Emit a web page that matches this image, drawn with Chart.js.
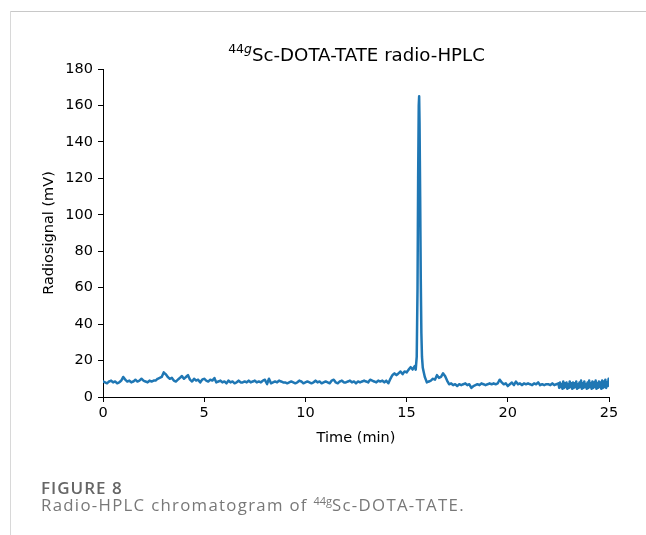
<!DOCTYPE html>
<html>
<head>
<meta charset="utf-8">
<script src="https://cdn.jsdelivr.net/npm/chart.js@4.4.1/dist/chart.umd.min.js"></script>
<style>
  html, body { margin: 0; padding: 0; background: #fff; }
  #wrap { position: relative; width: 646px; height: 535px; overflow: hidden; }
  #chartBox { position: absolute; left: 0; top: 0; width: 646px; height: 535px; }
  .topline { position: absolute; left: 10px; top: 11px; width: 636px; height: 1px; background: #c8c8c8; }
  .leftline { position: absolute; left: 10px; top: 11px; width: 1px; height: 524px; background: #d8d8d8; }
  #title { position: absolute; left: 0; width: 713px; top: 45px; text-align: center;
           font-family: "DejaVu Sans"; font-size: 18.2px; line-height: 20px; color: #000; white-space: nowrap; }
  #title sup { font-size: 12.5px; line-height: 0; vertical-align: baseline; position: relative; top: -8.4px; }
  #figlabel { position: absolute; left: 41px; top: 478px; font-family: "Open Sans"; font-weight: 600;
              font-size: 17px; line-height: 20px; color: #666; white-space: nowrap; letter-spacing: 1.0px; }
  #caption { position: absolute; left: 41px; top: 495px; font-family: "Open Sans"; font-weight: 400;
             font-size: 16.8px; line-height: 20px; color: #787878; white-space: nowrap; letter-spacing: 1.3px; }
  #caption sup { font-size: 11px; line-height: 0; vertical-align: baseline; position: relative; top: -6px; letter-spacing: 0; }
</style>
</head>
<body>
<div id="wrap">
  <div class="topline"></div>
  <div class="leftline"></div>
  <div id="chartBox"><canvas id="c"></canvas></div>
  <div id="title"><sup>44<i>g</i></sup>Sc-DOTA-TATE radio-HPLC</div>
  <div id="figlabel">FIGURE 8</div>
  <div id="caption">Radio-HPLC chromatogram of <sup>44g</sup>Sc-DOTA-TATE.</div>
</div>
<script>
const sampleStep = 0.1;
const baselineSignal = [
  8.5, 8.0, 7.5, 8.5, 9.0, 8.0, 8.5, 7.5, 8.0, 9.0,
  11.0, 9.5, 8.5, 9.0, 8.0, 8.5, 9.5, 8.5, 9.0, 10.0,
  9.0, 8.5, 8.0, 9.0, 8.5, 9.0, 9.0, 10.0, 10.5, 11.0,
  13.5, 12.5, 11.0, 10.0, 10.5, 9.0, 8.5, 9.5, 10.5, 11.5,
  10.0, 11.0, 12.0, 9.5, 8.5, 10.0, 9.0, 9.5, 8.0, 9.5,
  10.0, 9.0, 8.5, 9.5, 9.0, 10.5, 8.0, 8.5, 9.0, 8.0,
  8.5, 7.5, 9.0, 8.0, 8.5, 7.5, 8.0, 9.0, 8.0, 8.0,
  8.5, 8.0, 9.0, 8.0, 8.5, 9.0, 8.0, 8.5, 8.0, 9.0,
  9.5, 7.0, 10.0, 7.5, 8.0, 8.5, 8.0, 9.0, 8.5, 8.0,
  8.0, 7.5, 8.0, 8.5, 8.0, 7.5, 8.0, 9.0, 8.5, 7.5,
  8.0, 8.5, 8.0, 7.5, 8.0, 9.0, 8.0, 8.5, 7.5, 8.0,
  8.5, 8.0, 7.5, 9.0, 9.5, 8.0, 7.5, 8.5, 9.0, 8.0,
  8.0, 8.5, 9.0, 8.0, 8.5, 7.5, 8.5, 8.0, 8.5, 9.0,
  8.5, 8.0, 9.5, 9.0, 8.5, 8.0, 9.0, 8.5, 9.0, 8.0,
  9.0, 7.5, 10.0, 12.0, 13.0, 12.0, 13.0, 14.0, 12.5, 14.0,
  13.5, 15.0, 16.5, 15.0, 17.0
];
// Main peak region, sampled densely
const peakTime = [15.45, 15.50, 15.54, 15.57, 15.60, 15.62, 15.64, 15.67, 15.70, 15.73, 15.76, 15.80, 15.85, 15.90];
const peakSignal = [15.0, 22.0, 60.0, 120.0, 160.0, 165.0, 150.0, 110.0, 65.0, 35.0, 22.0, 16.0, 13.5, 11.0];
// Trace from 16.0 min to 22.4 min, every 0.1 min
const tailStart = 16.0;
const tailSignal = [
  8.0, 8.5, 9.0, 10.0, 9.5, 12.0, 10.5, 11.0, 13.0, 11.5,
  9.0, 7.0, 7.5, 6.5, 7.0, 6.0, 7.0, 6.5, 7.0, 7.5,
  6.5, 7.0, 5.0, 6.0, 6.5, 7.0, 6.5, 7.5, 7.0, 6.5,
  7.0, 7.5, 7.0, 7.5, 7.0, 7.5, 9.5, 8.0, 7.0, 7.5,
  6.0, 7.0, 8.0, 6.5, 8.5, 7.0, 7.5, 6.5, 7.5, 7.0,
  7.5, 7.0, 6.5, 7.5, 7.0, 8.0, 6.5, 7.0, 6.5, 7.0,
  7.0, 6.5, 7.5, 6.5, 7.0
];
// Noisy end section from 22.5 min to 24.98 min, every 0.04 min
const bandStart = 22.5;
const bandStep = 0.04;
const bandSignal = [
  7.5, 5.0, 8.0, 5.5, 7.0, 4.5, 8.5, 5.0, 7.5, 5.5,
  8.0, 4.5, 7.0, 5.0, 8.5, 5.5, 7.5, 4.5, 8.0, 5.0,
  7.5, 5.5, 8.5, 4.5, 7.0, 5.0, 8.0, 5.5, 9.0, 4.5,
  7.5, 5.0, 8.5, 5.5, 7.0, 4.5, 8.0, 5.0, 9.0, 5.5,
  7.5, 4.5, 8.5, 5.0, 8.0, 5.5, 9.0, 4.5, 7.5, 5.0,
  8.5, 5.5, 8.0, 4.5, 9.0, 5.0, 8.5, 5.5, 9.5, 5.0,
  8.0, 6.0, 10.0
];
const xTicks = [0, 5, 10, 15, 20, 25];
const yTicks = [0, 20, 40, 60, 80, 100, 120, 140, 160, 180];

const points = [];
baselineSignal.forEach((v, i) => points.push({ x: +(i * sampleStep).toFixed(2), y: v }));
peakTime.forEach((t, i) => points.push({ x: t, y: peakSignal[i] }));
tailSignal.forEach((v, i) => points.push({ x: +(tailStart + i * sampleStep).toFixed(2), y: v }));
bandSignal.forEach((v, i) => points.push({ x: +(bandStart + i * bandStep).toFixed(2), y: v }));

const tickFont = { family: 'DejaVu Sans', size: 14.5 };

new Chart(document.getElementById('c'), {
  type: 'line',
  data: {
    datasets: [{
      data: points,
      borderColor: '#1f77b4',
      borderWidth: 2.5,
      borderJoinStyle: 'round',
      borderCapStyle: 'round',
      pointRadius: 0,
      tension: 0.001,
      fill: false
    }]
  },
  options: {
    responsive: true,
    maintainAspectRatio: false,
    animation: false,
    events: [],
    layout: { padding: { left: 37, right: 37, top: 69, bottom: 84 } },
    plugins: { legend: { display: false }, tooltip: { enabled: false }, title: { display: false } },
    scales: {
      x: {
        type: 'linear',
        min: 0, max: 25,
        afterBuildTicks: (s) => { s.ticks = xTicks.map(v => ({ value: v })); },
        afterFit: (s) => { s.height = 54; },
        ticks: { font: tickFont, color: '#000', padding: 3, maxRotation: 0 },
        grid: { drawOnChartArea: false, drawTicks: true, tickLength: 5, color: '#000', tickWidth: 1 },
        border: { display: true, color: '#000', width: 1 },
        title: { display: true, text: 'Time (min)', font: tickFont, color: '#000', padding: { top: 4, bottom: 4 } }
      },
      y: {
        type: 'linear',
        min: 0, max: 180,
        afterBuildTicks: (s) => { s.ticks = yTicks.map(v => ({ value: v })); },
        afterFit: (s) => { s.width = 66; },
        ticks: { font: tickFont, color: '#000', padding: 5 },
        grid: { drawOnChartArea: false, drawTicks: true, tickLength: 5, color: '#000', tickWidth: 1 },
        border: { display: true, color: '#000', width: 1 },
        title: { display: true, text: 'Radiosignal (mV)', font: tickFont, color: '#000', padding: { top: 4, bottom: 4 } }
      }
    }
  }
});
</script>
</body>
</html>
